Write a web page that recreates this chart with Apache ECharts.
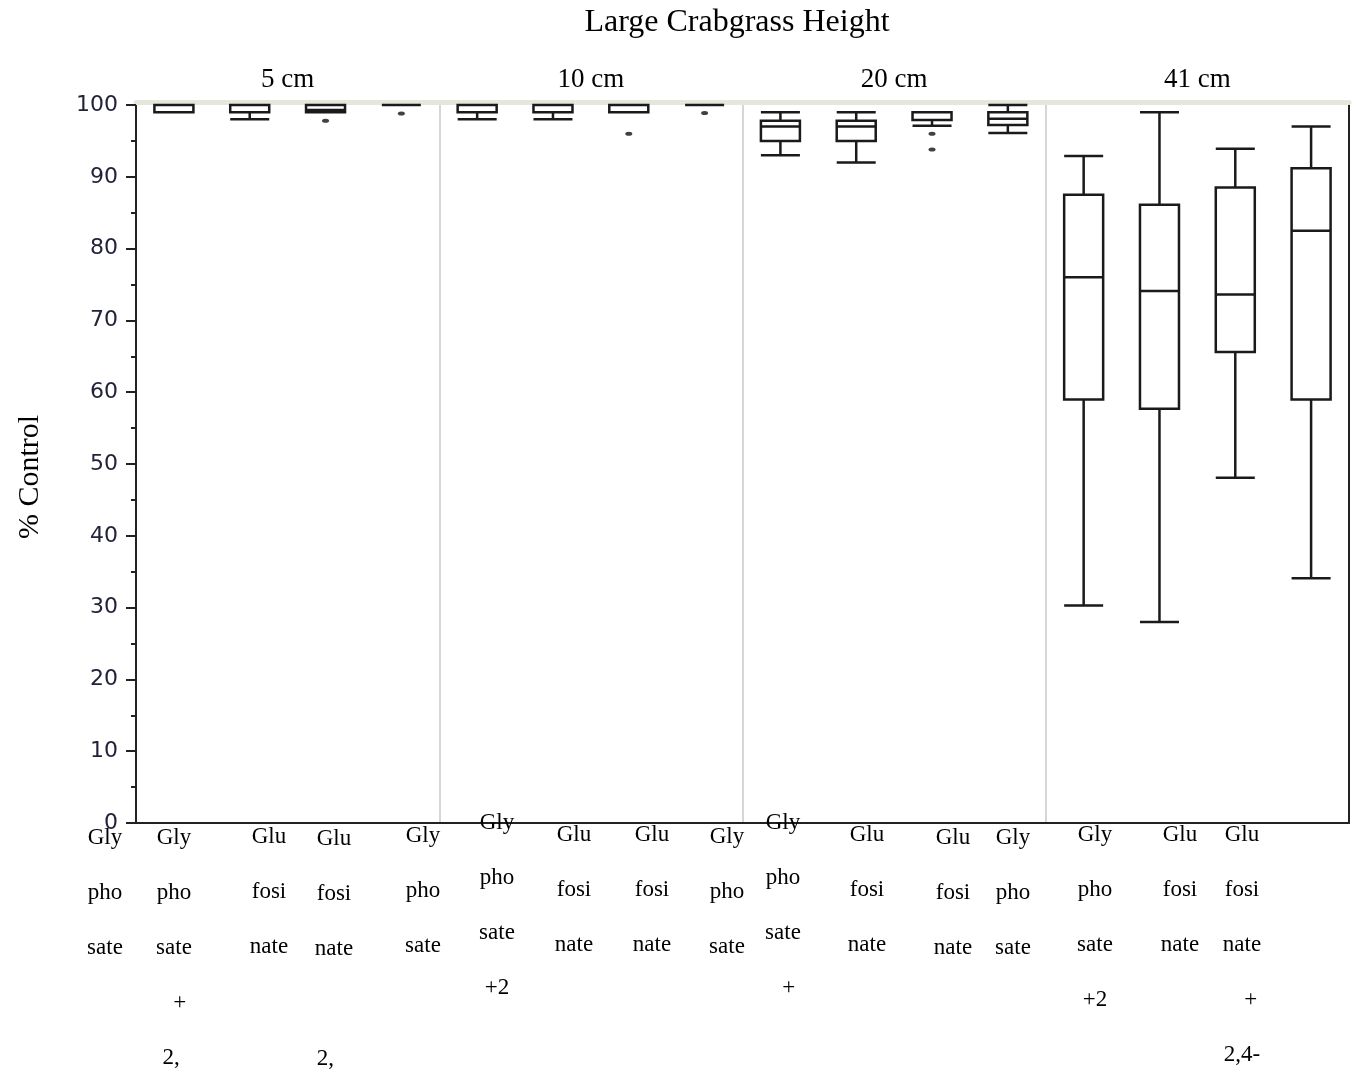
<!DOCTYPE html>
<html>
<head>
<meta charset="utf-8">
<title>Large Crabgrass Height</title>
<script src="https://cdn.jsdelivr.net/npm/echarts@6/dist/echarts.min.js"></script>
<style>
  html, body { margin: 0; padding: 0; background: #fff; }
  #chart { width: 1358px; height: 1073px; }
</style>
</head>
<body>
<div id="chart"></div>
<script>
// crabgrass height panels and herbicide treatments
const panels = ['5 cm', '10 cm', '20 cm', '41 cm']
const treatments = ['Glyphosate', 'Glyphosate + 2,4-D', 'Glufosinate', 'Glufosinate + 2,4-D']

// box values per panel: [min, Q1, median, Q3, max] (% control)
const box5cm = [
  [99, 99, 100, 100, 100],
  [98, 99, 100, 100, 100],
  [99, 99, 99.3, 100, 100],
  [100, 100, 100, 100, 100]
]
const box10cm = [
  [98, 99, 100, 100, 100],
  [98, 99, 100, 100, 100],
  [99, 99, 100, 100, 100],
  [100, 100, 100, 100, 100]
]
const box20cm = [
  [93, 95, 97, 97.8, 99],
  [92, 95, 97, 97.8, 99],
  [97.1, 97.9, 99, 99, 99],
  [96.1, 97.2, 98.1, 99, 100]
]
const box41cm = [
  [30.3, 59, 76, 87.5, 92.9],
  [28, 57.7, 74.1, 86.1, 99],
  [48.1, 65.6, 73.6, 88.5, 93.9],
  [34.1, 59, 82.5, 91.2, 97]
]

// outliers: [category index (0-15), value]
const outliers = [
  [2, 97.8],
  [3, 98.8],
  [6, 96],
  [7, 98.9],
  [10, 96],
  [10, 93.8]
]

// broken x labels as they appear under the axis
const treatmentLabels = [
  'Gly\npho\nsate',
  'Gly\npho\nsate\n  +\n2, ',
  'Glu\nfosi\nnate',
  'Glu\nfosi\nnate\n\n2,   ',
  'Gly\npho\nsate',
  'Gly\npho\nsate\n+2',
  'Glu\nfosi\nnate',
  'Glu\nfosi\nnate',
  'Gly\npho\nsate',
  'Gly\npho\nsate\n  +',
  'Glu\nfosi\nnate',
  'Glu\nfosi\nnate',
  'Gly\npho\nsate',
  'Gly\npho\nsate\n+2',
  'Glu\nfosi\nnate',
  'Glu\nfosi\nnate\n   +\n2,4-'
]
const labelX = [105, 174, 269, 334, 423, 497, 574, 652, 727, 783, 867, 953, 1013, 1095, 1180, 1242]
const labelY = [838, 838, 837, 839, 836, 823, 835, 835, 837, 823, 835, 838, 838, 835, 835, 835]

const categories = []
panels.forEach(p => treatments.forEach(t => categories.push(p + ' ' + t)))
const boxData = [].concat(box5cm, box10cm, box20cm, box41cm)

const chart = echarts.init(document.getElementById('chart'))

const serif = "'Liberation Serif', 'Times New Roman', serif"

chart.setOption({
  backgroundColor: '#fff',
  animation: false,
  title: {
    text: 'Large Crabgrass Height',
    left: 732,
    top: 2,
    textAlign: 'center',
    textStyle: {
      fontFamily: serif,
      fontWeight: 'normal',
      fontSize: 32,
      color: '#000'
    }
  },
  grid: {
    left: 136,
    top: 105,
    width: 1213,
    height: 718,
    containLabel: false
  },
  xAxis: [
    {
      type: 'category',
      data: categories,
      position: 'bottom',
      axisLine: { onZero: false, lineStyle: { color: '#222', width: 2 } },
      axisTick: { show: false },
      axisLabel: { show: false },
      splitLine: { show: false }
    },
    {
      type: 'category',
      data: panels,
      position: 'top',
      offset: 3,
      axisLine: { onZero: false, lineStyle: { color: '#e6e6dc', width: 5 } },
      axisTick: { show: false },
      axisLabel: {
        margin: 9,
        fontFamily: serif,
        fontSize: 27,
        color: '#000'
      },
      splitLine: { show: true, lineStyle: { color: '#d6d6d6', width: 2 } }
    }
  ],
  yAxis: [
    {
      type: 'value',
      min: 0,
      max: 100,
      interval: 10,
      name: '% Control',
      nameLocation: 'middle',
      nameGap: 91,
      nameRotate: 90,
      nameTextStyle: {
        fontFamily: serif,
        fontSize: 30,
        color: '#000',
        padding: [0, 26, 0, 0]
      },
      axisLine: { show: true, onZero: false, lineStyle: { color: '#222', width: 2 } },
      axisTick: { show: true, length: 10, lineStyle: { color: '#222', width: 2 } },
      minorTick: { show: true, splitNumber: 2, length: 5, lineStyle: { color: '#222', width: 2 } },
      axisLabel: {
        margin: 18,
        fontFamily: "'DejaVu Sans', sans-serif",
        fontSize: 22,
        color: '#22223a'
      },
      splitLine: { show: false }
    },
    {
      type: 'value',
      min: 0,
      max: 100,
      position: 'right',
      axisLine: { show: true, onZero: false, lineStyle: { color: '#222', width: 2 } },
      axisTick: { show: false },
      axisLabel: { show: false },
      splitLine: { show: false }
    }
  ],
  series: [
    {
      name: 'Percent control',
      type: 'boxplot',
      xAxisIndex: 0,
      yAxisIndex: 0,
      z: 5,
      boxWidth: [39, 39],
      itemStyle: {
        color: '#fff',
        borderColor: '#1a1a1a',
        borderWidth: 2.5
      },
      data: boxData
    },
    {
      name: 'Outliers',
      type: 'scatter',
      xAxisIndex: 0,
      yAxisIndex: 0,
      z: 6,
      symbol: 'circle',
      symbolSize: [7, 4],
      itemStyle: { color: '#111' },
      data: outliers
    }
  ],
  graphic: treatmentLabels.map((t, i) => ({
    type: 'text',
    x: labelX[i],
    y: labelY[i] - 27.5,
    z: 10,
    style: {
      text: t,
      font: "23px 'Liberation Serif', serif",
      fill: '#000',
      textAlign: 'center',
      textVerticalAlign: 'top',
      lineHeight: 55
    }
  }))
})
</script>
</body>
</html>
